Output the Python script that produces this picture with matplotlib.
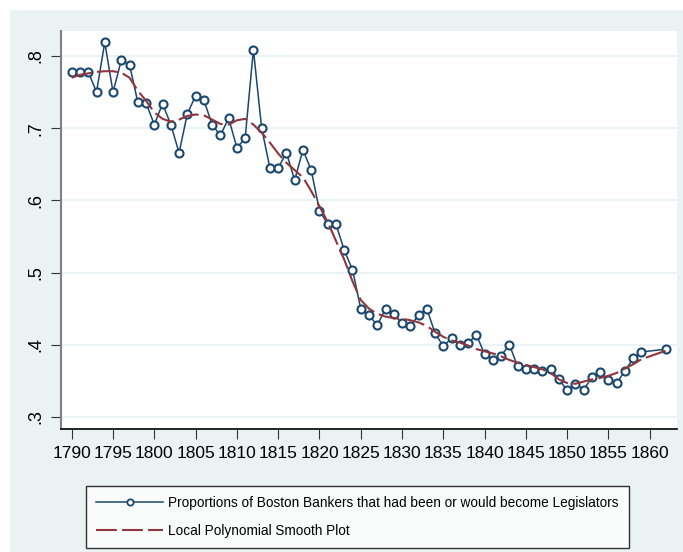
import matplotlib
matplotlib.use("Agg")
import matplotlib.pyplot as plt
from matplotlib.patches import Rectangle

plt.rcParams['font.family'] = ['Liberation Sans', 'DejaVu Sans']

# observed proportions
years = list(range(1790, 1860)) + [1862]
props = [0.778, 0.778, 0.778, 0.750, 0.819, 0.750, 0.794, 0.788, 0.736, 0.735,
         0.705, 0.734, 0.705, 0.666, 0.720, 0.745, 0.739, 0.705, 0.690, 0.714,
         0.673, 0.686, 0.809, 0.700, 0.645, 0.645, 0.666, 0.628, 0.670, 0.642,
         0.586, 0.567, 0.567, 0.531, 0.504, 0.450, 0.441, 0.427, 0.450, 0.442,
         0.430, 0.426, 0.441, 0.450, 0.416, 0.398, 0.409, 0.399, 0.402, 0.414,
         0.387, 0.379, 0.385, 0.400, 0.370, 0.367, 0.367, 0.364, 0.366, 0.352,
         0.337, 0.346, 0.338, 0.355, 0.362, 0.351, 0.347, 0.364, 0.381, 0.390,
         0.394]

# local polynomial smooth at the same years
smooth = [0.770, 0.774, 0.776, 0.778, 0.779, 0.779, 0.777, 0.770, 0.752, 0.738,
          0.722, 0.713, 0.709, 0.712, 0.717, 0.719, 0.718, 0.712, 0.706, 0.705,
          0.711, 0.713, 0.705, 0.694, 0.680, 0.665, 0.652, 0.642, 0.632, 0.613,
          0.592, 0.570, 0.544, 0.518, 0.488, 0.462, 0.450, 0.443, 0.439, 0.437,
          0.436, 0.434, 0.431, 0.426, 0.418, 0.411, 0.406, 0.403, 0.399, 0.394,
          0.391, 0.388, 0.384, 0.379, 0.375, 0.372, 0.369, 0.366, 0.361, 0.352,
          0.347, 0.346, 0.349, 0.352, 0.354, 0.357, 0.361, 0.367, 0.373, 0.380,
          0.392]

xticks = list(range(1790, 1861, 5))
yticks = [0.3, 0.4, 0.5, 0.6, 0.7, 0.8]
ytick_labels = ['.3', '.4', '.5', '.6', '.7', '.8']

bg = '#eaf2f3'
navy = '#1a476f'
maroon = '#90353b'

fig = plt.figure(figsize=(6.83, 5.52), dpi=100)
fig.patch.set_facecolor('white')
fig.patches.append(Rectangle((10 / 683, 0), 1, 1 - 10 / 552, transform=fig.transFigure,
                             facecolor=bg, edgecolor='none', zorder=-10))

ax = fig.add_axes([61 / 683, 1 - 429 / 552, (677 - 61) / 683, (429 - 31) / 552])
ax.set_facecolor('white')

ax.plot(years, props, color=navy, lw=1.1, marker='o', ms=5.8, mfc='white',
        mec=navy, mew=1.5, zorder=3,
        label='Proportions of Boston Bankers that had been or would become Legislators')
ax.plot(years, smooth, color=maroon, lw=1.5, linestyle=(0, (10, 2.5)), zorder=4,
        label='Local Polynomial Smooth Plot')

ax.set_xlim(1788.7, 1863.3)
ax.set_ylim(0.2833, 0.8347)
ax.set_xticks(xticks)
ax.set_xticklabels([str(t) for t in xticks], fontsize=12.5)
ax.set_yticks(yticks)
ax.set_yticklabels(ytick_labels, fontsize=13, rotation=90, va='center')
ax.tick_params(axis='both', direction='out', length=7, width=0.8, color='#333333')
ax.tick_params(axis='x', pad=5)
ax.tick_params(axis='y', pad=5)
ax.grid(axis='y', color=bg, lw=1.5)
ax.set_axisbelow(True)

for s in ['top', 'right']:
    ax.spines[s].set_visible(False)
ax.spines['left'].set_color('#7f7f7f')
ax.spines['left'].set_linewidth(1.5)
ax.spines['bottom'].set_color('black')
ax.spines['bottom'].set_linewidth(1.2)

leg = fig.legend(loc='center', bbox_to_anchor=(0.5234, 0.0634), ncol=1,
                 fontsize=9.8, handlelength=4.9, handletextpad=0.4, numpoints=1,
                 frameon=True, fancybox=False, borderpad=0.75, labelspacing=1.05,
                 borderaxespad=0)
leg.get_frame().set_edgecolor('black')
leg.get_frame().set_linewidth(1.0)
leg.legend_handles[0].set_markersize(4.5)
leg.legend_handles[0].set_markeredgewidth(1.3)

fig.savefig('out.png', dpi=100, facecolor=fig.get_facecolor())
